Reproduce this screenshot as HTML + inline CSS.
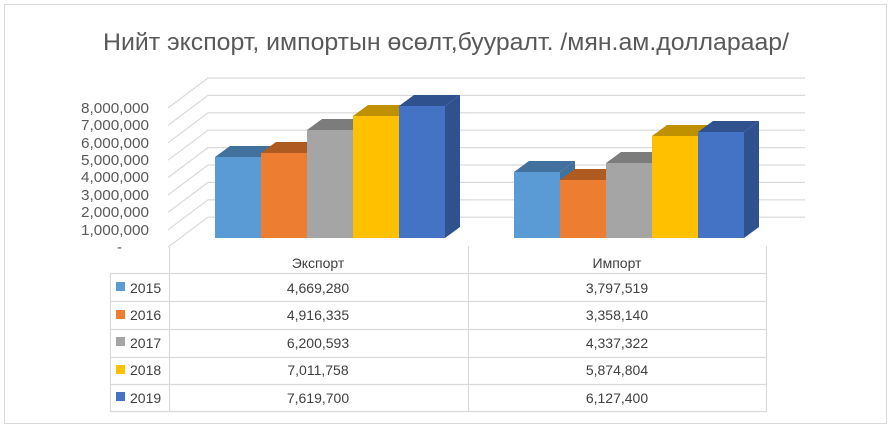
<!DOCTYPE html>
<html><head><meta charset="utf-8"><style>
html,body{margin:0;padding:0;background:#fff;}
svg{display:block;font-family:"Liberation Sans","DejaVu Sans",sans-serif;}
</style></head><body>
<svg width="891" height="429" viewBox="0 0 891 429" xmlns="http://www.w3.org/2000/svg">
<rect x="4.5" y="4.5" width="882" height="419" fill="#fff" stroke="#d9d9d9"/>
<text x="446" y="50" text-anchor="middle" font-size="24" fill="#595959" textLength="686" lengthAdjust="spacingAndGlyphs">Нийт экспорт, импортын өсөлт,бууралт. /мян.ам.доллараар/</text>
<g stroke="#d9d9d9" stroke-width="1.2" fill="none">
<path d="M805 78H208L168 108M805 95.4H208L168 125.4M805 112.8H208L168 142.8M805 130.2H208L168 160.2M805 147.6H208L168 177.6M805 165H208L168 195M805 182.4H208L168 212.4M805 199.8H208L168 229.8M805 217.2H208L168 247.2"/>
<path d="M169.5 247V412M468.5 246V412M766.5 246V412M110.5 273.5V412M110 273.5H766M110 301.5H766M110 329.5H766M110 357.5H766M110 384.5H766M110 411.5H766"/>
</g>
<g font-size="15" fill="#595959" text-anchor="end">
<text x="149" y="113" textLength="68" lengthAdjust="spacingAndGlyphs">8,000,000</text><text x="149" y="130" textLength="68" lengthAdjust="spacingAndGlyphs">7,000,000</text><text x="149" y="148" textLength="68" lengthAdjust="spacingAndGlyphs">6,000,000</text><text x="149" y="165" textLength="68" lengthAdjust="spacingAndGlyphs">5,000,000</text><text x="149" y="182" textLength="68" lengthAdjust="spacingAndGlyphs">4,000,000</text><text x="149" y="200" textLength="68" lengthAdjust="spacingAndGlyphs">3,000,000</text><text x="149" y="217" textLength="68" lengthAdjust="spacingAndGlyphs">2,000,000</text><text x="149" y="235" textLength="68" lengthAdjust="spacingAndGlyphs">1,000,000</text><text x="122" y="252">-</text>
</g>
<g font-size="14" fill="#404040" text-anchor="middle">
<text x="318" y="268">Экспорт</text><text x="617" y="268">Импорт</text>
<text x="318" y="293">4,669,280</text><text x="617" y="293">3,797,519</text>
<text x="318" y="320">4,916,335</text><text x="617" y="320">3,358,140</text>
<text x="318" y="348">6,200,593</text><text x="617" y="348">4,337,322</text>
<text x="318" y="375">7,011,758</text><text x="617" y="375">5,874,804</text>
<text x="318" y="403">7,619,700</text><text x="617" y="403">6,127,400</text>
</g>
<g font-size="14" fill="#404040">
<rect x="116" y="282" width="9" height="9" fill="#5b9bd5"/><text x="130" y="293">2015</text>
<rect x="116" y="310" width="9" height="9" fill="#ed7d31"/><text x="130" y="320">2016</text>
<rect x="116" y="337" width="9" height="9" fill="#a5a5a5"/><text x="130" y="348">2017</text>
<rect x="116" y="365" width="9" height="9" fill="#ffc000"/><text x="130" y="375">2018</text>
<rect x="116" y="392" width="9" height="9" fill="#4472c4"/><text x="130" y="403">2019</text>
</g>
<g>
<rect x="215" y="157" width="46" height="81" fill="#5b9bd5"/><polygon points="215,157 261,157 276,146 230,146" fill="#41719c"/><polygon points="261,157 276,146 276,227 261,238" fill="#41719c"/>
<rect x="261" y="153" width="46" height="85" fill="#ed7d31"/><polygon points="261,153 307,153 322,142 276,142" fill="#ae5a21"/><polygon points="307,153 322,142 322,227 307,238" fill="#ae5a21"/>
<rect x="307" y="130" width="46" height="108" fill="#a5a5a5"/><polygon points="307,130 353,130 368,119 322,119" fill="#7c7c7c"/><polygon points="353,130 368,119 368,227 353,238" fill="#7c7c7c"/>
<rect x="353" y="116" width="46" height="122" fill="#ffc000"/><polygon points="353,116 399,116 414,105 368,105" fill="#bf9000"/><polygon points="399,116 414,105 414,227 399,238" fill="#bf9000"/>
<rect x="399" y="106" width="46" height="132" fill="#4472c4"/><polygon points="399,106 445,106 460,95 414,95" fill="#2f528f"/><polygon points="445,106 460,95 460,227 445,238" fill="#2f528f"/>
</g>
<g>
<rect x="514" y="172" width="46" height="66" fill="#5b9bd5"/><polygon points="514,172 560,172 575,161 529,161" fill="#41719c"/><polygon points="560,172 575,161 575,227 560,238" fill="#41719c"/>
<rect x="560" y="180" width="46" height="58" fill="#ed7d31"/><polygon points="560,180 606,180 621,169 575,169" fill="#ae5a21"/><polygon points="606,180 621,169 621,227 606,238" fill="#ae5a21"/>
<rect x="606" y="163" width="46" height="75" fill="#a5a5a5"/><polygon points="606,163 652,163 667,152 621,152" fill="#7c7c7c"/><polygon points="652,163 667,152 667,227 652,238" fill="#7c7c7c"/>
<rect x="652" y="136" width="46" height="102" fill="#ffc000"/><polygon points="652,136 698,136 713,125 667,125" fill="#bf9000"/><polygon points="698,136 713,125 713,227 698,238" fill="#bf9000"/>
<rect x="698" y="132" width="46" height="106" fill="#4472c4"/><polygon points="698,132 744,132 759,121 713,121" fill="#2f528f"/><polygon points="744,132 759,121 759,227 744,238" fill="#2f528f"/>
</g>
</svg>
</body></html>
